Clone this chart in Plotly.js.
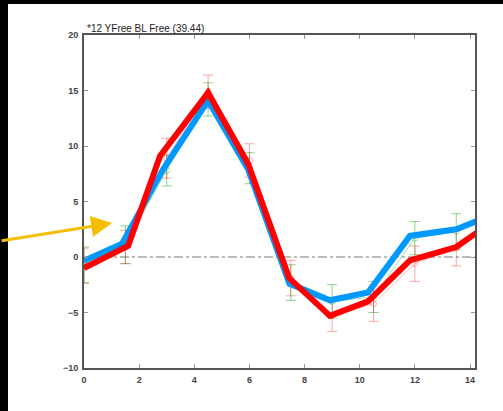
<!DOCTYPE html>
<html>
<head>
<meta charset="utf-8">
<script src="https://cdn.plot.ly/plotly-3.0.1.min.js"></script>
<style>
html,body{margin:0;padding:0;background:#fff;overflow:hidden;}
#chart{width:503px;height:411px;}
</style>
</head>
<body>
<div id="chart"></div>
<script>
// Thick fitted lines
const blueX = [0, 1.38, 2.87, 4.5, 5.95, 7.45, 8.92, 10.3, 11.82, 13.5, 15];
const blueY = [-0.35, 1.2, 7.9, 14.1, 7.9, -2.4, -3.9, -3.2, 1.9, 2.5, 4.0];
const redX  = [0, 1.6, 2.76, 4.5, 5.95, 7.44, 8.92, 10.3, 11.82, 13.5, 15];
const redY  = [-1.0, 1.0, 9.1, 14.8, 8.4, -1.9, -5.3, -4.0, -0.3, 0.9, 3.5];

// Thin observed lines with error bars
const obsX   = [0, 1.5, 3, 4.5, 6, 7.5, 9, 10.5, 12, 13.5, 15];
const greenY = [-0.7, 1.1, 7.8, 14.2, 8.0, -2.3, -4.0, -3.6, 1.7, 2.3, 3.9];
const greenE = [1.6, 1.7, 1.4, 1.5, 1.4, 1.6, 1.5, 1.4, 1.5, 1.6, 1.5];
const pinkY  = [-0.8, 0.9, 8.9, 14.9, 8.7, -1.9, -5.3, -4.2, -0.6, 0.8, 3.3];
const pinkE  = [1.6, 1.5, 1.8, 1.5, 1.5, 1.6, 1.4, 1.6, 1.6, 1.6, 1.5];

const titleText = "*12 YFree BL Free (39.44)";
const xTicks = [0, 2, 4, 6, 8, 10, 12, 14];
const yTicks = [-10, -5, 0, 5, 10, 15, 20];

const traces = [
  {x: obsX, y: greenY, type: 'scatter', mode: 'lines+markers',
   line: {color: 'rgba(0,160,0,0.35)', width: 1},
   marker: {symbol: 'circle-open', size: 6, color: 'rgba(0,160,0,0.35)'},
   error_y: {type: 'data', array: greenE, visible: true, color: 'rgba(0,160,0,0.45)', thickness: 1, width: 5},
   hoverinfo: 'skip'},
  {x: obsX, y: pinkY, type: 'scatter', mode: 'lines+markers',
   line: {color: 'rgba(255,0,0,0.25)', width: 1},
   marker: {symbol: 'circle-open', size: 6, color: 'rgba(255,0,0,0.3)'},
   error_y: {type: 'data', array: pinkE, visible: true, color: 'rgba(255,0,0,0.35)', thickness: 1, width: 5},
   hoverinfo: 'skip'},
  {x: blueX, y: blueY, type: 'scatter', mode: 'lines',
   line: {color: '#0099ff', width: 6}},
  {x: redX, y: redY, type: 'scatter', mode: 'lines',
   line: {color: '#ff0000', width: 6}}
];

const tickFont = {family: 'Liberation Sans, Arial, sans-serif', size: 9, color: '#444', weight: 'bold'};

const layout = {
  width: 503, height: 411,
  margin: {l: 84, r: 28, t: 35, b: 43},
  paper_bgcolor: '#ffffff', plot_bgcolor: '#ffffff',
  showlegend: false,
  xaxis: {range: [0, 14.18], tickvals: xTicks, ticks: 'inside', ticklen: 4, tickcolor: '#999',
    showgrid: false, zeroline: false, showline: true, linecolor: '#555', linewidth: 2, mirror: 'ticks',
    tickfont: tickFont, ticklabelstandoff: 2},
  yaxis: {range: [-10, 20], tickvals: yTicks, ticktext: ['\u221210','\u22125','0','5','10','15','20'],
    ticks: 'inside', ticklen: 4, tickcolor: '#999',
    showgrid: false, zeroline: false, showline: true, linecolor: '#555', linewidth: 2, mirror: 'ticks',
    tickfont: tickFont, ticklabelstandoff: 2},
  shapes: [
    {type: 'line', xref: 'paper', yref: 'y', x0: 0, x1: 1, y0: 0, y1: 0, layer: 'below',
     line: {color: '#bbbbbb', width: 2, dash: 'dashdot'}},
    {type: 'rect', xref: 'paper', yref: 'paper', x0: -0.2149, x1: -0.1944, y0: -0.129, y1: 1.105,
     fillcolor: '#000', line: {width: 0}},
    {type: 'rect', xref: 'paper', yref: 'paper', x0: -0.2149, x1: 1.0716, y0: 1.093, y1: 1.105,
     fillcolor: '#000', line: {width: 0}}
  ],
  annotations: [
    {text: titleText, xref: 'paper', yref: 'paper', x: 0, y: 1, xanchor: 'left', yanchor: 'bottom',
     showarrow: false, font: {family: 'Liberation Sans, Arial, sans-serif', size: 10, color: '#222'}, xshift: 1, yshift: -1},
    {text: '', xref: 'x', yref: 'y', x: 1.02, y: 3.06, ax: -112, ay: 18,
     showarrow: true, arrowhead: 2, arrowsize: 1.4, arrowwidth: 3, arrowcolor: '#f5be00'}
  ]
};

Plotly.newPlot('chart', traces, layout, {displayModeBar: false, staticPlot: true});
</script>
</body>
</html>
